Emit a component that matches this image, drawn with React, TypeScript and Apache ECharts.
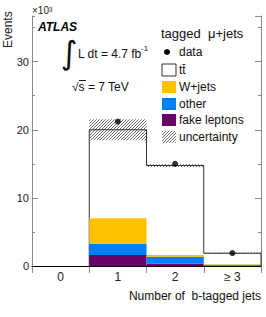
import React, { useEffect, useRef } from "react";
import * as echarts from "echarts";

const categories = ["0", "1", "2", "≥ 3"];
const fakeLeptons = [0, 1.6, 0.35, 0.08];
const other = [0, 1.65, 1.0, 0.12];
const wjets = [0, 3.75, 0.25, 0.05];
const ttbar = [0, 13.0, 13.15, 1.62];
const dataPoints = [null, 21.2, 15.0, 1.9];
const uncertainty = [0, 1.55, 0.2, 0.1];

const FONT = "'Liberation Sans', Arial, Helvetica, sans-serif";
const YELLOW = "#FFC000";
const BLUE = "#0080FF";
const PURPLE = "#660066";
const FRAME = "#8a8a8a";

function makeHatch(): any {
  const n = 3;
  const c = document.createElement("canvas");
  c.width = n;
  c.height = n;
  const ctx = c.getContext("2d")!;
  const img = ctx.createImageData(n, n);
  for (let x = 0; x < n; x++) {
    const y = n - 1 - x;
    const i = (y * n + x) * 4;
    img.data[i] = 110;
    img.data[i + 1] = 110;
    img.data[i + 2] = 110;
    img.data[i + 3] = 255;
  }
  ctx.putImageData(img, 0, 0);
  return { image: c, repeat: "repeat" };
}

export default function App() {
  const ref = useRef<HTMLDivElement>(null);
  useEffect(() => {
    if (!ref.current) return;
    const chart = echarts.init(ref.current, null, { renderer: "svg" });
    const hatch = makeHatch();

    const components = [
      { name: "fake leptons", vals: fakeLeptons, color: PURPLE },
      { name: "other", vals: other, color: BLUE },
      { name: "W+jets", vals: wjets, color: YELLOW },
    ];
    const bases = categories.map(() => 0);
    const compSeries = components.map((c) => {
      const d = categories.map((_, i) => {
        const b = bases[i];
        bases[i] += c.vals[i];
        return [i, b, bases[i]];
      });
      return {
        type: "custom",
        name: c.name,
        data: d,
        encode: { x: 0, y: [1, 2] },
        renderItem: (params: any, api: any) => {
          const i = api.value(0);
          const lo = api.value(1);
          const hi = api.value(2);
          if (hi - lo <= 0) return null;
          const w = api.size([1, 0])[0];
          const p0 = api.coord([i, lo]);
          const p1 = api.coord([i, hi]);
          return {
            type: "rect",
            shape: { x: p0[0] - w / 2, y: p1[1], width: w, height: p0[1] - p1[1] },
            style: { fill: c.color },
          };
        },
        z: 3,
      };
    });

    const totals = categories.map((_, i) => fakeLeptons[i] + other[i] + wjets[i] + ttbar[i]);
    const totalData = categories.map((_, i) => [i, totals[i], i > 0 ? totals[i - 1] : 0, uncertainty[i]]);

    const totalSeries = {
      type: "custom",
      name: "tt",
      data: totalData,
      encode: { x: 0, y: 1 },
      renderItem: (params: any, api: any) => {
        const i = api.value(0);
        const tot = api.value(1);
        const prev = api.value(2);
        const unc = api.value(3);
        if (tot <= 0) return null;
        const w = api.size([1, 0])[0];
        const top = api.coord([i, tot]);
        const bot = api.coord([i, 0]);
        const prevP = api.coord([i, prev]);
        const uHi = api.coord([i, tot + unc]);
        const uLo = api.coord([i, tot - unc]);
        const left = top[0] - w / 2;
        const right = top[0] + w / 2;
        const pts: number[][] = [
          [left, prevP[1]],
          [left, top[1]],
          [right, top[1]],
        ];
        if (i === categories.length - 1) pts.push([right, bot[1]]);
        return {
          type: "group",
          children: [
            {
              type: "rect",
              shape: { x: left, y: top[1], width: w, height: bot[1] - top[1] },
              style: { fill: "#fff" },
            },
            {
              type: "rect",
              shape: { x: left, y: uHi[1], width: w, height: uLo[1] - uHi[1] },
              style: { fill: hatch },
            },
            {
              type: "polyline",
              shape: { points: pts },
              style: { stroke: "#333", lineWidth: 1, fill: "none" },
            },
          ],
        };
      },
      z: 2,
    };

    const scatterData = dataPoints.map((v, i) => (v == null ? null : [i, v])).filter((d) => d);

    const yCommon = { type: "value", min: 0, max: 36.7, splitLine: { show: false } };

    const legendX = 161;
    const rowY = [52, 70, 87, 104, 120, 137];
    const legendItems: any[] = [
      { type: "text", x: legendX, y: 33, style: { text: "tagged  μ+jets", font: `13px ${FONT}`, fill: "#111", verticalAlign: "middle" } },
      { type: "circle", shape: { cx: 167, cy: rowY[0], r: 3 }, style: { fill: "#000" } },
      { type: "rect", shape: { x: 162, y: rowY[1] - 6, width: 14, height: 12 }, style: { fill: "#fff", stroke: "#333", lineWidth: 1 } },
      { type: "rect", shape: { x: 162, y: rowY[2] - 6, width: 14, height: 12 }, style: { fill: YELLOW } },
      { type: "rect", shape: { x: 162, y: rowY[3] - 6, width: 14, height: 12 }, style: { fill: BLUE } },
      { type: "rect", shape: { x: 162, y: rowY[4] - 6, width: 14, height: 12 }, style: { fill: PURPLE } },
      { type: "rect", shape: { x: 162, y: rowY[5] - 6, width: 14, height: 12 }, style: { fill: hatch } },
    ];
    const legendTexts = ["data", "tt\u0304", "W+jets", "other", "fake leptons", "uncertainty"];
    legendTexts.forEach((t, k) => {
      legendItems.push({
        type: "text",
        x: 179,
        y: rowY[k],
        style: { text: t, font: `12px ${FONT}`, fill: "#111", verticalAlign: "middle", align: "left" },
      });
    });

    const option: any = {
      animation: false,
      grid: { left: 32, right: 5, top: 16, bottom: 51 },
      xAxis: [
        {
          type: "category",
          data: categories,
          boundaryGap: true,
          axisLine: { lineStyle: { color: "#000", width: 1 } },
          axisTick: { show: false },
          axisLabel: { fontSize: 12, fontFamily: FONT, color: "#222", margin: 5 },
          z: 10,
        },
        {
          type: "category",
          data: categories,
          position: "top",
          boundaryGap: true,
          axisLine: { lineStyle: { color: FRAME, width: 1 } },
          axisTick: { show: true, inside: true, length: 7, interval: 0, lineStyle: { color: FRAME } },
          axisLabel: { show: false },
        },
      ],
      yAxis: [
        {
          ...yCommon,
          position: "left",
          interval: 10,
          axisLine: { show: true, lineStyle: { color: FRAME } },
          axisTick: { show: true, inside: true, length: 6, lineStyle: { color: FRAME } },
          axisLabel: {
            fontSize: 11,
            fontFamily: FONT,
            color: "#222",
            margin: 3,
            showMaxLabel: false,
            formatter: (v: number) => (v % 10 === 0 ? String(v) : ""),
          },
        },
        {
          ...yCommon,
          position: "left",
          interval: 5,
          axisLine: { show: false },
          axisTick: { show: true, inside: true, length: 3, lineStyle: { color: FRAME } },
          axisLabel: { show: false },
        },
        {
          ...yCommon,
          position: "right",
          interval: 10,
          axisLine: { show: true, lineStyle: { color: FRAME } },
          axisTick: { show: true, inside: true, length: 6, lineStyle: { color: FRAME } },
          axisLabel: { show: false },
        },
        {
          ...yCommon,
          position: "right",
          interval: 5,
          axisLine: { show: false },
          axisTick: { show: true, inside: true, length: 3, lineStyle: { color: FRAME } },
          axisLabel: { show: false },
        },
      ],
      series: [
        totalSeries,
        ...compSeries,
        {
          type: "scatter",
          name: "data",
          data: scatterData,
          symbol: "circle",
          symbolSize: 6,
          itemStyle: { color: "#000" },
          z: 5,
        },
      ],
      graphic: [
        {
          type: "text",
          x: 2,
          y: 48,
          rotation: Math.PI / 2,
          originX: 0,
          originY: 0,
          style: { text: "Events", font: `12px ${FONT}`, fill: "#222", align: "left", verticalAlign: "top" },
        },
        { type: "text", x: 32, y: 10, style: { text: "×10³", font: `10px ${FONT}`, fill: "#222", verticalAlign: "middle" } },
        { type: "text", x: 38, y: 27, style: { text: "ATLAS", font: `italic bold 12px ${FONT}`, fill: "#000", verticalAlign: "middle" } },
        { type: "text", x: 69, y: 53, style: { text: "∫", font: `32px 'DejaVu Sans', ${FONT}`, fill: "#111", align: "center", verticalAlign: "middle" } },
        { type: "text", x: 78, y: 54, style: { text: "L dt = 4.7 fb", font: `12px ${FONT}`, fill: "#111", verticalAlign: "middle" } },
        { type: "text", x: 141, y: 48, style: { text: "-1", font: `8px ${FONT}`, fill: "#111", verticalAlign: "middle" } },
        { type: "text", x: 72, y: 87, style: { text: "√s = 7 TeV", font: `12px ${FONT}`, fill: "#111", verticalAlign: "middle" } },
        { type: "line", shape: { x1: 79, y1: 80.5, x2: 86, y2: 80.5 }, style: { stroke: "#111", lineWidth: 1 } },
        {
          type: "text",
          x: 261,
          y: 296,
          style: { text: "Number of  b-tagged jets", font: `12px ${FONT}`, fill: "#111", align: "right", verticalAlign: "middle" },
        },
        ...legendItems,
      ],
    };
    chart.setOption(option);
    return () => chart.dispose();
  }, []);
  return <div ref={ref} style={{ position: "absolute", left: 0, top: 0, width: 266, height: 317 }} />;
}
